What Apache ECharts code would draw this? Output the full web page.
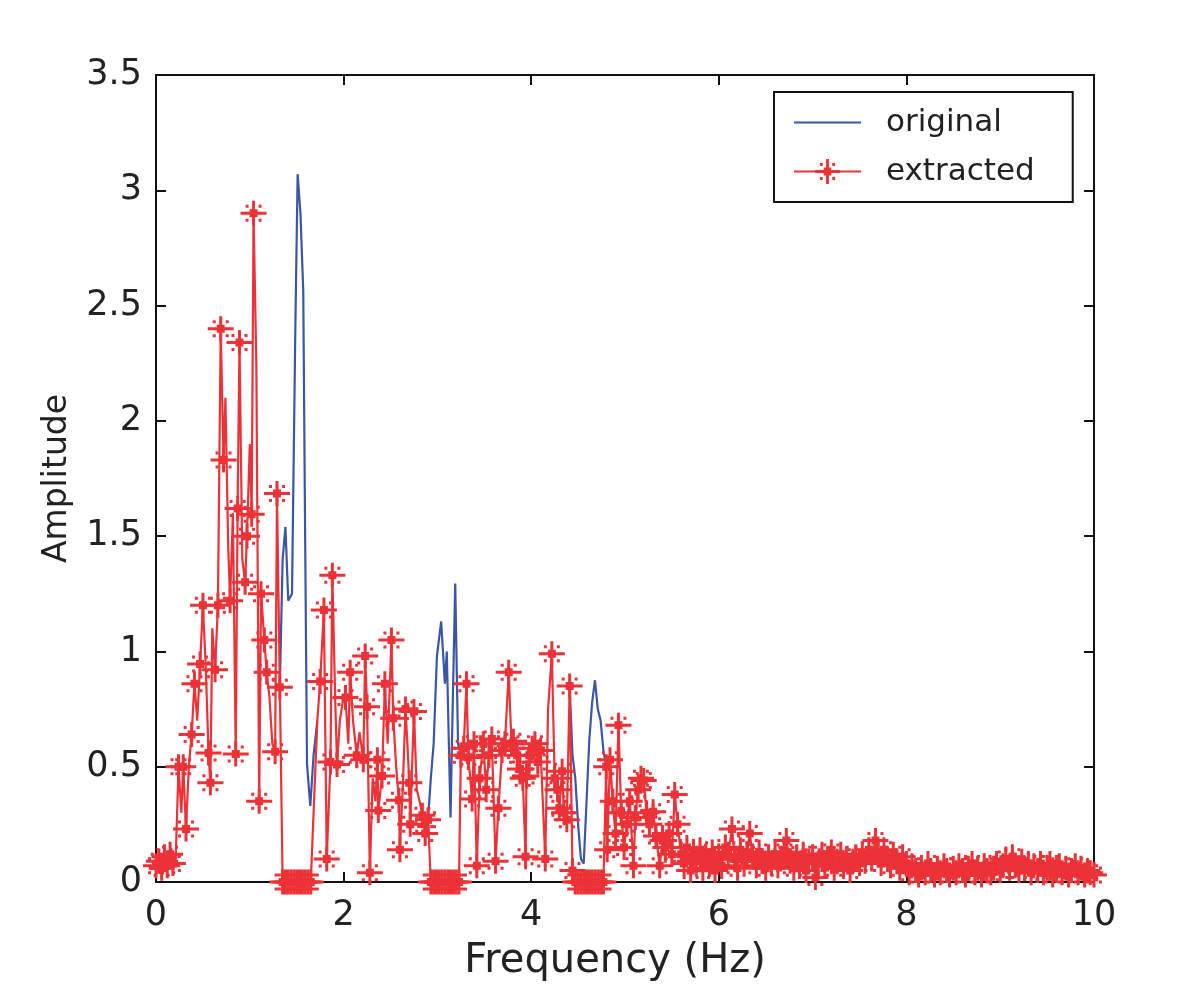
<!DOCTYPE html>
<html>
<head>
<meta charset="utf-8">
<script src="https://cdn.jsdelivr.net/npm/echarts@6/dist/echarts.min.js"></script>
<style>html,body{margin:0;padding:0;background:#fff}#c{width:1200px;height:989px}</style>
</head>
<body>
<div id="c"></div>
<script>
// ---- data ----
const xTicks = [0, 2, 4, 6, 8, 10];
const yTicks = [0, 0.5, 1, 1.5, 2, 2.5, 3, 3.5];

// original spectrum, visible where the extracted one was removed (null = gap)
const origFreq = [1.32,1.35,1.38,1.41,1.45,1.485,1.51,1.54,1.57,1.59,1.61,1.645,1.68,1.72, 1.8,
  2.87,2.90,2.93,2.96,2.995,3.04,3.08,3.10,3.14,3.16,3.19,3.22,3.25, 3.3,
  4.41,4.44,4.47,4.50,4.53,4.56,4.59,4.62,4.65,4.68,4.71,4.74,4.77,4.80];
const origAmp = [0.845,1.40,1.54,1.22,1.25,2.39,3.07,2.90,2.56,1.50,0.51,0.33,0.55,0.70, null,
  0.21,0.27,0.45,0.60,0.98,1.13,0.86,1.00,0.28,0.70,1.295,0.60,0.55, null,
  0.85,0.55,0.45,0.25,0.10,0.08,0.35,0.62,0.78,0.875,0.75,0.70,0.57,0.50];

// extracted spectrum
const extFreq = [0.00,0.03,0.06,0.09,0.12,0.15,0.18,0.21,0.24,0.27,0.29,0.32,0.35,0.38,0.41,0.44,0.47,0.50,0.53,0.56,0.58,0.60,0.63,0.66,0.69,0.72,0.74,0.77,0.79,0.82,0.85,0.87,0.89,0.92,0.95,0.97,1.00,1.02,1.04,1.07,1.10,1.12,1.155,1.18,1.21,1.24,1.27,1.29,1.32,
  1.35,1.38,1.41,1.44,1.47,1.50,1.53,1.56,1.59,1.62,1.65,
  1.68,1.72,1.75,1.79,1.82,1.86,1.88,1.91,1.93,1.96,1.99,2.02,2.05,2.07,2.10,2.14,2.17,2.21,2.23,2.25,2.28,2.31,2.34,2.36,2.37,2.41,2.44,2.47,2.51,2.53,2.56,2.59,2.60,2.63,2.66,2.68,2.70,2.71,2.75,2.78,2.81,2.84,2.87,2.90,
  2.93,2.96,2.99,3.02,3.05,3.08,3.11,3.14,3.17,3.20,3.23,
  3.25,3.28,3.31,3.33,3.37,3.39,3.42,3.45,3.49,3.52,3.55,3.58,3.62,3.65,3.69,3.72,3.76,3.79,3.81,3.85,3.88,3.91,3.94,3.95,3.98,4.01,4.04,4.07,4.10,4.15,4.18,4.22,4.25,4.28,4.30,4.33,4.35,4.38,4.41,4.44,
  4.47,4.50,4.53,4.56,4.59,4.62,4.65,4.68,4.71,4.74,4.77,
  4.80,4.81,4.84,4.87,4.90,4.93,4.96,4.99,5.02,5.05,5.09,5.11,5.14,5.17,5.20,5.23,5.26,5.30,5.33,5.37,5.40,5.43,5.47,5.50,5.53,
  5.56,5.60,5.63,5.66,5.70,5.73,5.76,5.80,5.83,5.86,5.90,5.93,5.96,6.00,6.03,6.07,6.10,6.14,6.17,6.20,6.23,6.27,6.30,6.33,6.36,6.40,6.43,6.46,6.50,6.53,6.56,6.60,6.63,6.66,6.70,6.72,6.76,6.80,6.83,6.86,6.90,6.93,6.96,
  7.00,7.03,7.06,7.10,7.13,7.16,7.20,7.23,7.26,7.30,7.33,7.36,7.40,7.43,7.46,7.50,7.53,7.56,7.60,7.63,7.67,7.70,7.73,7.76,7.80,7.83,7.86,7.90,7.93,7.96,
  8.00,8.03,8.06,8.10,8.13,8.16,8.20,8.23,8.26,8.30,8.33,8.36,8.40,8.43,8.46,8.50,8.53,8.56,8.60,8.63,8.66,8.70,8.73,8.76,8.80,8.83,8.86,8.90,8.93,8.96,
  9.00,9.03,9.06,9.10,9.13,9.16,9.20,9.23,9.26,9.30,9.33,9.36,9.40,9.43,9.46,9.50,9.53,9.56,9.60,9.63,9.66,9.70,9.73,9.76,9.80,9.83,9.86,9.90,9.93,9.96,10.00];
const extAmp = [0.07,0.09,0.06,0.11,0.07,0.12,0.08,0.10,0.50,0.30,0.50,0.23,0.50,0.64,0.86,0.70,0.945,1.20,0.94,0.56,0.43,1.10,0.92,1.20,2.40,1.83,2.10,1.45,1.22,1.60,0.555,1.62,2.34,1.40,1.30,1.50,1.90,1.595,2.90,2.24,0.35,1.25,1.05,0.91,0.80,0.60,0.565,1.685,0.845,
  0,0,0,0,0,0,0,0,0,0,0,
  0.30,0.70,0.87,1.18,0.10,0.52,1.33,0.80,0.51,0.70,0.78,0.80,0.60,0.91,0.70,0.55,0.65,0.53,0.98,0.76,0.04,0.45,0.35,0.53,0.31,0.46,0.86,0.60,1.05,0.71,0.50,0.355,0.14,0.40,0.75,0.60,0.43,0.25,0.74,0.40,0.35,0.29,0.21,0.27,
  0,0,0,0,0,0,0,0,0,0,0,
  0.55,0.58,0.86,0.54,0.36,0.60,0.07,0.45,0.60,0.40,0.55,0.62,0.09,0.32,0.57,0.60,0.91,0.60,0.61,0.55,0.49,0.45,0.11,0.46,0.55,0.58,0.60,0.52,0.57,0.10,0.75,0.99,0.45,0.40,0.32,0.48,0.30,0.27,0.85,0.05,
  0,0,0,0,0,0,0,0,0,0,0,
  0.50,0.14,0.53,0.35,0.21,0.68,0.30,0.15,0.25,0.35,0.07,0.28,0.40,0.45,0.44,0.30,0.25,0.305,0.20,0.07,0.18,0.15,0.21,0.12,0.38,
  0.25,0.12,0.08,0.15,0.05,0.12,0.09,0.14,0.06,0.11,0.08,0.13,0.05,0.10,0.07,0.15,0.12,0.23,0.10,0.06,0.14,0.09,0.12,0.21,0.11,0.07,0.13,0.09,0.06,0.11,0.08,0.12,0.07,0.10,0.13,0.18,0.09,0.06,0.11,0.08,0.12,0.05,0.09,
  0.11,0.02,0.08,0.12,0.07,0.10,0.13,0.06,0.09,0.12,0.07,0.10,0.05,0.09,0.11,0.08,0.12,0.09,0.14,0.10,0.18,0.12,0.08,0.14,0.10,0.07,0.12,0.09,0.06,0.11,
  0.08,0.04,0.07,0.05,0.03,0.06,0.04,0.08,0.05,0.03,0.06,0.04,0.07,0.05,0.03,0.06,0.04,0.07,0.05,0.03,0.06,0.08,0.04,0.06,0.03,0.07,0.05,0.04,0.06,0.08,
  0.05,0.07,0.10,0.06,0.11,0.07,0.05,0.09,0.06,0.08,0.04,0.07,0.05,0.08,0.04,0.06,0.08,0.03,0.05,0.07,0.04,0.06,0.03,0.05,0.07,0.04,0.06,0.03,0.05,0.04,0.03];
// vertices of the extracted curve drawn without a star marker
const extPlain = [0.21,0.27,0.35,0.44,0.53,0.60,0.74,0.77,0.82,0.92,1.00,1.07,1.21,1.24,1.68,1.72,1.91,1.96,1.99,2.05,2.10,2.17,2.31,2.34,2.47,2.56,2.63,2.68,2.78,2.81,4.18];

const seriesNames = ['original', 'extracted'];
const colors = ['#3b56a6', '#ec3237'];

// ---- chart ----
const star = 'path://M0,11H26V14H0Z M11.5,0H14.5V25H11.5Z M9,8.5H17V16.5H9Z M5,4H8V7H5Z M18,4H21V7H18Z M5,18H8V21H5Z M18,18H21V21H18Z';
const plainSet = new Set(extPlain);
const origData = origFreq.map((f, i) => [f, origAmp[i] === null ? '-' : origAmp[i]]);
const extData = extFreq.map((f, i) => plainSet.has(f) ? {value: [f, extAmp[i]], symbol: 'none'} : [f, extAmp[i]]);

const font = 'DejaVu Sans';
const chart = echarts.init(document.getElementById('c'), null, {renderer: 'canvas'});
const axisLine = () => ({show: true, onZero: false, lineStyle: {color: '#111', width: 2}});
const tick = () => ({show: true, inside: true, length: 10, lineStyle: {color: '#111', width: 2}});
chart.setOption({
  animation: false,
  backgroundColor: '#fff',
  grid: {left: 156, right: 106, top: 75, bottom: 107, show: true, borderColor: '#111', borderWidth: 2, backgroundColor: 'transparent'},
  legend: {
    data: [{name: seriesNames[0], icon: 'path://M0,0H67V2.2H0Z'}, {name: seriesNames[1]}],
    orient: 'vertical',
    left: 774, top: 92,
    itemWidth: 67, itemHeight: 31, itemGap: 18,
    padding: [15, 38, 15, 19],
    borderColor: '#111', borderWidth: 2,
    textStyle: {fontFamily: font, fontSize: 31, lineHeight: 31, color: '#222', padding: [0, 0, 0, 20]},
    inactiveColor: '#ccc'
  },
  xAxis: [{
    type: 'value', min: xTicks[0], max: xTicks[xTicks.length - 1], interval: 2,
    axisLine: axisLine(), axisTick: tick(), splitLine: {show: false},
    axisLabel: {fontFamily: font, fontSize: 35, color: '#222', margin: 16},
    name: 'Frequency (Hz)', nameLocation: 'middle', nameGap: 60,
    nameTextStyle: {fontFamily: font, fontSize: 40, color: '#222', padding: [0, 20, 0, 0]}
  }, {
    type: 'value', position: 'top', min: xTicks[0], max: xTicks[xTicks.length - 1], interval: 2,
    axisLine: axisLine(), axisTick: tick(), splitLine: {show: false}, axisLabel: {show: false}
  }],
  yAxis: [{
    type: 'value', min: yTicks[0], max: yTicks[yTicks.length - 1], interval: 0.5,
    axisLine: axisLine(), axisTick: tick(), splitLine: {show: false},
    axisLabel: {fontFamily: font, fontSize: 35, color: '#222', margin: 14},
    name: 'Amplitude', nameLocation: 'middle', nameGap: 82, nameRotate: 90,
    nameTextStyle: {fontFamily: font, fontSize: 33, color: '#222'}
  }, {
    type: 'value', position: 'right', min: yTicks[0], max: yTicks[yTicks.length - 1], interval: 0.5,
    axisLine: axisLine(), axisTick: tick(), splitLine: {show: false}, axisLabel: {show: false}
  }],
  series: [{
    name: seriesNames[0], type: 'line', data: origData,
    symbol: 'none', showSymbol: false, connectNulls: false,
    lineStyle: {color: colors[0], width: 2.2}, itemStyle: {color: colors[0]}
  }, {
    name: seriesNames[1], type: 'line', data: extData,
    symbol: star, symbolSize: [26, 25], showSymbol: true, showAllSymbol: true,
    lineStyle: {color: colors[1], width: 2.2}, itemStyle: {color: colors[1], borderWidth: 0}
  }]
});
</script>
</body>
</html>
